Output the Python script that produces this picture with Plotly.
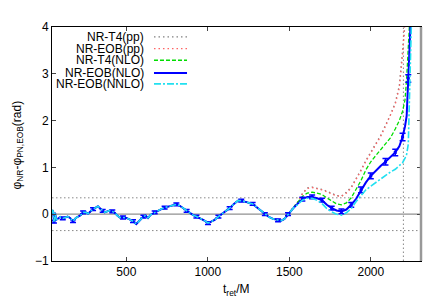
import plotly.graph_objects as go

# ---- data ----
t_early = [44, 50, 56, 62, 70, 80, 95, 110, 125, 140, 155, 173, 190, 205, 220, 235, 250, 265, 280, 296,
           312, 326, 340, 355, 367, 383, 398, 414, 429, 445, 460, 480, 500, 520, 541, 561, 575, 590, 605, 618,
           633, 650, 674, 695, 715, 735, 756, 780, 807, 828, 848, 870, 889, 910, 930, 950, 971, 990, 1001, 1020,
           1042, 1065, 1093, 1115, 1134, 1160, 1185, 1205, 1226, 1250, 1275, 1300, 1325, 1350, 1375, 1400, 1431,
           1450, 1470, 1492, 1510, 1530]
phi_early = [0.02, 0.09, -0.16, 0.03, -0.12, -0.10, -0.06, -0.09, -0.07, -0.05, -0.08, -0.15, -0.08, -0.05,
             -0.02, 0.04, 0.04, 0.01, 0.06, 0.11, 0.14, 0.17, 0.12, 0.07, 0.04, 0.06, 0.08, 0.06, 0.03, -0.03,
             -0.07, -0.07, -0.08, -0.11, -0.15, -0.21, -0.16, -0.09, -0.05, -0.03, -0.08, -0.01, 0.04, 0.07,
             0.11, 0.14, 0.16, 0.18, 0.21, 0.18, 0.13, 0.07, 0.02, -0.02, -0.05, -0.08, -0.12, -0.16, -0.19,
             -0.16, -0.12, -0.05, 0.02, 0.08, 0.13, 0.22, 0.29, 0.29, 0.27, 0.26, 0.22, 0.15, 0.08, 0.00, -0.06,
             -0.10, -0.13, -0.14, -0.10, 0.00, 0.06, 0.15]

t_late = [1550, 1580, 1610, 1640, 1670, 1700, 1730, 1760, 1790, 1820, 1850, 1880, 1910, 1940, 1970, 2000,
          2030, 2060, 2090, 2120, 2150, 2175, 2195, 2210, 2220, 2230, 2240, 2250]
t4_pp_late = [0.26, 0.44, 0.56, 0.58, 0.56, 0.53, 0.49, 0.44, 0.40, 0.39, 0.47, 0.58, 0.75, 0.95, 1.15,
              1.33, 1.50, 1.68, 1.90, 2.12, 2.38, 2.75, 3.50, 4.30, 4.60, 4.80, 5.00, 5.20]
eob_pp_late = [0.25, 0.43, 0.55, 0.57, 0.55, 0.52, 0.48, 0.43, 0.39, 0.38, 0.45, 0.56, 0.73, 0.93, 1.13,
               1.31, 1.48, 1.66, 1.88, 2.10, 2.35, 2.70, 3.40, 4.20, 4.50, 4.70, 4.90, 5.10]
t4_nlo_late = [0.24, 0.38, 0.45, 0.47, 0.45, 0.42, 0.35, 0.28, 0.22, 0.20, 0.24, 0.35, 0.52, 0.72, 0.95,
               1.12, 1.25, 1.38, 1.50, 1.63, 1.82, 2.00, 2.20, 2.45, 2.90, 3.80, 4.50, 4.90]
eob_nlo_late = [0.22, 0.32, 0.37, 0.37, 0.34, 0.30, 0.20, 0.13, 0.08, 0.06, 0.10, 0.20, 0.33, 0.52, 0.68,
                0.82, 0.93, 1.03, 1.12, 1.22, 1.32, 1.45, 1.65, 1.88, 2.10, 2.90, 4.00, 4.60]
eob_nnlo_late = [0.20, 0.30, 0.34, 0.34, 0.30, 0.23, 0.12, 0.05, 0.00, -0.02, 0.03, 0.12, 0.27, 0.40, 0.52,
                 0.60, 0.68, 0.76, 0.84, 0.90, 0.96, 1.03, 1.10, 1.20, 1.28, 1.50, 2.60, 4.20]

# error bars on NR-EOB(NLO)
err_t = [56, 110, 173, 235, 296, 355, 414, 480, 541, 605, 674, 735, 807, 870, 930, 1001, 1065, 1134, 1205,
         1275, 1350, 1431, 1492, 1580, 1640, 1700, 1760, 1820, 1880, 1940, 2000, 2090, 2150, 2195, 2230]
err_v = [0.03, 0.03, 0.03, 0.03, 0.03, 0.03, 0.03, 0.03, 0.03, 0.03, 0.03, 0.03, 0.03, 0.03, 0.03, 0.03,
         0.03, 0.03, 0.03, 0.03, 0.03, 0.03, 0.03, 0.04, 0.04, 0.04, 0.04, 0.05, 0.05, 0.06, 0.06, 0.07,
         0.07, 0.08, 0.08]

x_range = [44, 2308]
y_range = [-1, 4]
hlines = [0.35, -0.35]
vline_t = 2200

legend_names = ["NR-T4(pp)", "NR-EOB(pp)", "NR-T4(NLO)", "NR-EOB(NLO)", "NR-EOB(NNLO)"]
colors = ["#808080", "#ff6464", "#00dd00", "#0000ff", "#22e0f0"]
dashes = ["1.5px,3px", "1.5px,3px", "4px,2px", "solid", "7px,2px,2px,2px"]
widths = [1.3, 1.3, 1.3, 2.0, 1.6]

t_all = t_early + t_late
series = [phi_early + t4_pp_late, phi_early + eob_pp_late, phi_early + t4_nlo_late,
          phi_early + eob_nlo_late, phi_early + eob_nnlo_late]

fig = go.Figure()
for name, ys, c, d, w in zip(legend_names, series, colors, dashes, widths):
    fig.add_trace(go.Scatter(x=t_all, y=ys, mode="lines", name=name,
                             line=dict(color=c, dash=d, width=w), showlegend=False))
    if name == "NR-EOB(NLO)":
        lookup = dict(zip(t_all, ys))
        fig.add_trace(go.Scatter(x=err_t, y=[lookup[t] for t in err_t], mode="markers",
                                 marker=dict(size=3, color="#0000ff", symbol="square"),
                                 error_y=dict(type="data", array=err_v, color="#0000ff",
                                              thickness=1.5, width=3),
                                 showlegend=False))

shapes = []
for h in hlines:
    shapes.append(dict(type="line", xref="paper", x0=0, x1=1, yref="y", y0=h, y1=h,
                       line=dict(color="#888888", width=1, dash="1.5px,2.5px"), layer="below"))
shapes.append(dict(type="line", xref="paper", x0=0, x1=1, yref="y", y0=0, y1=0,
                   line=dict(color="#909090", width=1.3), layer="below"))
shapes.append(dict(type="line", xref="x", x0=vline_t, x1=vline_t, yref="paper", y0=0, y1=1,
                   line=dict(color="#888888", width=1, dash="1.5px,2.5px"), layer="below"))
shapes.append(dict(type="line", xref="paper", x0=1, x1=1, yref="paper", y0=0, y1=1,
                   line=dict(color="#999999", width=2.5)))

# manual legend (text right-aligned, sample line to the right)
leg_y = [0.958, 0.908, 0.858, 0.803, 0.757]
annotations = []
for name, c, d, w, yy in zip(legend_names, colors, dashes, widths, leg_y):
    annotations.append(dict(text=name, xref="paper", yref="paper", x=0.2547, y=yy,
                            xanchor="right", yanchor="middle", showarrow=False,
                            font=dict(size=12, color="#000000")))
    shapes.append(dict(type="line", xref="paper", yref="paper", x0=0.2764, x1=0.3659, y0=yy, y1=yy,
                       line=dict(color=c, dash=d, width=w)))

annotations.append(dict(text="φ<sub>NR</sub>-φ<sub>PN,EOB</sub>(rad)", xref="paper", yref="paper",
                        x=-0.092, y=0.494, textangle=-90, showarrow=False,
                        xanchor="center", yanchor="middle", font=dict(size=12, color="#000000")))
annotations.append(dict(text="t<sub>ret</sub>/M", xref="paper", yref="paper",
                        x=0.4986, y=-0.125, showarrow=False,
                        xanchor="center", yanchor="middle", font=dict(size=12, color="#000000")))

fig.update_layout(
    width=436, height=305,
    margin=dict(l=44, r=23, t=14, b=52),
    paper_bgcolor="white", plot_bgcolor="white",
    font=dict(family="Liberation Sans, Arial, sans-serif", size=12, color="#000000"),
    shapes=shapes, annotations=annotations, showlegend=False,
    xaxis=dict(range=x_range, tickvals=[500, 1000, 1500, 2000], ticks="inside", ticklen=4,
               showline=True, linecolor="#000000", linewidth=1, mirror="ticks",
               showgrid=False, zeroline=False, tickfont=dict(size=12)),
    yaxis=dict(range=y_range, tickvals=[-1, 0, 1, 2, 3, 4], ticks="inside", ticklen=4,
               showline=True, linecolor="#000000", linewidth=1, mirror="ticks",
               showgrid=False, zeroline=False, tickfont=dict(size=12)),
)

fig.write_html("out.html")
